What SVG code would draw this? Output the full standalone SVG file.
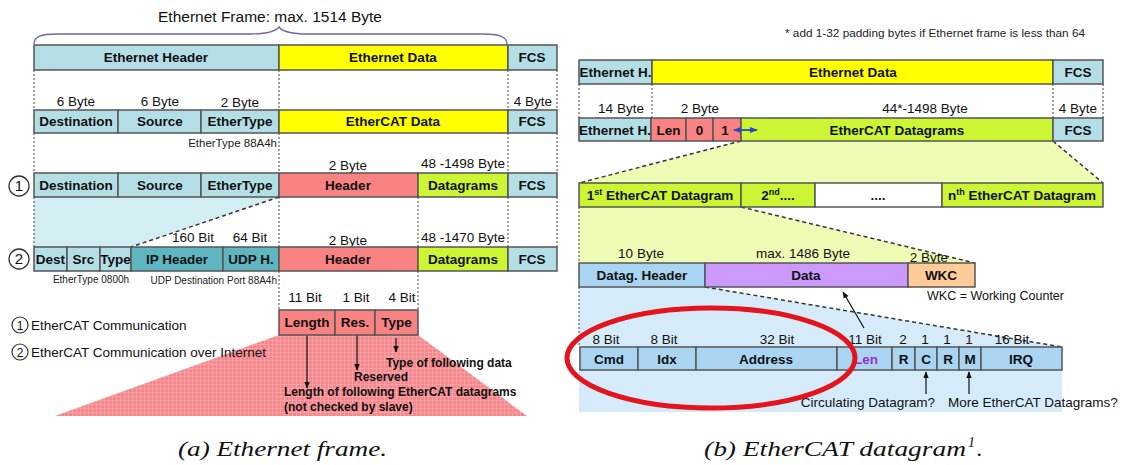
<svg xmlns="http://www.w3.org/2000/svg" width="1124" height="465" viewBox="0 0 1124 465">
<defs>
<style>
.bx{stroke:#555;stroke-width:1.5}
.eth{fill:#b4dee5}
.yel{fill:#ffff00}
.red{fill:#f98383}
.grn{fill:#ccf533}
.teal{fill:#5fb6c0}
.lbl{fill:#a9d4f2}
.vio{fill:#cc99ff}
.org{fill:#ffcc99}
.wht{fill:#ffffff}
.b{font-family:"Liberation Sans",Arial,sans-serif;font-weight:bold;font-size:13.5px;text-anchor:middle;fill:#111}
.r{font-family:"Liberation Sans",Arial,sans-serif;font-size:13.5px;text-anchor:middle;fill:#111}
.s{font-family:"Liberation Sans",Arial,sans-serif;font-size:10px;fill:#222}
.d{font-family:"Liberation Sans",Arial,sans-serif;font-weight:bold;font-size:12px;fill:#111}
.dot{stroke:#444;stroke-width:1;stroke-dasharray:2,2;fill:none}
.dash{stroke:#333;stroke-width:1.5;stroke-dasharray:4,3;fill:none}
.arr{stroke:#111;stroke-width:1.2;fill:none;marker-end:url(#ah)}
.cap{font-family:"Liberation Serif","Times New Roman",serif;font-style:italic;font-size:22px;fill:#111}
</style>
<marker id="ah" viewBox="0 0 10 10" refX="9" refY="5" markerWidth="7" markerHeight="7" orient="auto-start-reverse" markerUnits="userSpaceOnUse"><path d="M0,1 L10,5 L0,9 z" fill="#111"/></marker>
<marker id="bh" viewBox="0 0 10 10" refX="9" refY="5" markerWidth="8" markerHeight="8" orient="auto-start-reverse" markerUnits="userSpaceOnUse"><path d="M0,1 L10,5 L0,9 z" fill="#2a48c0"/></marker>
<pattern id="grid" width="4" height="4" patternUnits="userSpaceOnUse"><rect width="4" height="4" fill="#f5878d"/><path d="M0,0.5 H4 M0.5,0 V4" stroke="#f8aaae" stroke-width="0.7"/></pattern>
</defs>
<rect width="1124" height="465" fill="#fff"/>

<!-- background regions -->
<g id="regions">
<polygon points="34,197 279,197 131,247 34,247" fill="#d2eef2"/>
<polygon points="279,335 418,335 527,416 55,416" fill="url(#grid)"/>
<polygon points="741,141 1053,141 1103,183 579,183" fill="#eefbb4"/>
<polygon points="579,207 741,207 975,263 579,263" fill="#eefbb4"/>
<polygon points="579,287 705,287 1062,347 1062,412 579,412" fill="#d5ebfa"/>
</g>

<!-- connectors -->
<g id="connectors">
<path d="M34,44 C34,37 40,34 58,34 L250,34 C268,34 276,31 279,27 C282,31 290,34 308,34 L482,34 C500,34 507,37 507,44" stroke="#6a6aa8" stroke-width="1.3" fill="none"/>
<path class="dot" d="M34,70 V110 M279,70 V110 M508,70 V110 M557,70 V110"/>
<path class="dot" d="M34,133 V173 M279,133 V173 M508,133 V173 M557,133 V173"/>
<path class="dot" d="M34,197 V247 M279,197 V247 M418,197 V247 M508,197 V247 M557,197 V247"/>
<path class="dot" d="M279,271 V310 M418,271 V310"/>
<path class="dash" d="M279,197 L131,247"/>
<path class="dot" d="M579,84 V118 M652,84 V118 M1053,84 V118 M1103,84 V118"/>
<path class="dash" d="M741,141 L579,183 M1053,141 L1103,183"/>
<path class="dot" d="M579,207 V263"/>
<path class="dash" d="M741,207 L975,263"/>
<path class="dot" d="M579,287 V347"/>
<path class="dash" d="M705,287 L1062,347"/>
<line class="arr" x1="307" y1="335" x2="307" y2="388"/>
<line class="arr" x1="357" y1="335" x2="357" y2="370"/>
<line class="arr" x1="396" y1="338" x2="396" y2="352"/>
<line class="arr" x1="864" y1="328" x2="843" y2="292"/>
<line class="arr" x1="926" y1="394" x2="926" y2="372"/>
<line class="arr" x1="969" y1="394" x2="969" y2="372"/>
</g>

<!-- left panel -->
<text class="r" x="270" y="22" style="font-size:15.5px">Ethernet Frame: max. 1514 Byte</text>

<g id="row1">
<g id="eth-header"><rect class="bx eth" x="34" y="45" width="245" height="25"/><text class="b" x="156" y="62">Ethernet Header</text></g>
<g id="eth-data"><rect class="bx yel" x="279" y="45" width="229" height="25"/><text class="b" x="393" y="62">Ethernet Data</text></g>
<g id="fcs1"><rect class="bx eth" x="508" y="45" width="49" height="25"/><text class="b" x="532" y="62">FCS</text></g>
</g>
<text class="r" x="76" y="106">6 Byte</text>
<text class="r" x="160" y="106">6 Byte</text>
<text class="r" x="240" y="107">2 Byte</text>
<text class="r" x="533" y="106">4 Byte</text>
<g id="row2">
<g id="dst2"><rect class="bx eth" x="34" y="110" width="84" height="23"/><text class="b" x="76" y="126">Destination</text></g>
<g id="src2"><rect class="bx eth" x="118" y="110" width="83" height="23"/><text class="b" x="160" y="126">Source</text></g>
<g id="etype2"><rect class="bx eth" x="201" y="110" width="78" height="23"/><text class="b" x="240" y="126">EtherType</text></g>
<g id="ecat-data"><rect class="bx yel" x="279" y="110" width="229" height="23"/><text class="b" x="393" y="126">EtherCAT Data</text></g>
<g id="fcs2"><rect class="bx eth" x="508" y="110" width="49" height="23"/><text class="b" x="532" y="126">FCS</text></g>
</g>
<text class="s" x="277" y="147" text-anchor="end" style="font-size:11.5px">EtherType 88A4h</text>

<text class="r" x="348" y="170">2 Byte</text>
<text class="r" x="463" y="168">48 -1498 Byte</text>
<g id="row3">
<circle cx="19" cy="186" r="10" fill="none" stroke="#333" stroke-width="1.3"/><text class="r" x="19" y="191" style="font-size:15px">1</text>
<g id="dst3"><rect class="bx eth" x="34" y="173" width="84" height="24"/><text class="b" x="76" y="190">Destination</text></g>
<g id="src3"><rect class="bx eth" x="118" y="173" width="83" height="24"/><text class="b" x="160" y="190">Source</text></g>
<g id="etype3"><rect class="bx eth" x="201" y="173" width="78" height="24"/><text class="b" x="240" y="190">EtherType</text></g>
<g id="hdr3"><rect class="bx red" x="279" y="173" width="139" height="24"/><text class="b" x="348" y="190">Header</text></g>
<g id="dg3"><rect class="bx grn" x="418" y="173" width="90" height="24"/><text class="b" x="463" y="190">Datagrams</text></g>
<g id="fcs3"><rect class="bx eth" x="508" y="173" width="49" height="24"/><text class="b" x="532" y="190">FCS</text></g>
</g>

<text class="r" x="193" y="242">160 Bit</text>
<text class="r" x="250" y="242">64 Bit</text>
<text class="r" x="348" y="245">2 Byte</text>
<text class="r" x="463" y="242">48 -1470 Byte</text>
<g id="row4">
<circle cx="19" cy="259" r="10" fill="none" stroke="#333" stroke-width="1.3"/><text class="r" x="19" y="264" style="font-size:15px">2</text>
<g id="dest4"><rect class="bx eth" x="34" y="247" width="33" height="24"/><text class="b" x="50.5" y="264">Dest</text></g>
<g id="src4"><rect class="bx eth" x="67" y="247" width="33" height="24"/><text class="b" x="83.5" y="264">Src</text></g>
<g id="type4"><rect class="bx eth" x="100" y="247" width="31" height="24"/><text class="b" x="115.5" y="264">Type</text></g>
<g id="ip4"><rect class="bx teal" x="131" y="247" width="92" height="24"/><text class="b" x="177" y="264">IP Header</text></g>
<g id="udp4"><rect class="bx teal" x="223" y="247" width="56" height="24"/><text class="b" x="251" y="264">UDP H.</text></g>
<g id="hdr4"><rect class="bx red" x="279" y="247" width="139" height="24"/><text class="b" x="348" y="264">Header</text></g>
<g id="dg4"><rect class="bx grn" x="418" y="247" width="90" height="24"/><text class="b" x="463" y="264">Datagrams</text></g>
<g id="fcs4"><rect class="bx eth" x="508" y="247" width="49" height="24"/><text class="b" x="532" y="264">FCS</text></g>
</g>
<text class="s" x="91" y="283" text-anchor="middle">EtherType 0800h</text>
<text class="s" x="277" y="284" text-anchor="end">UDP Destination Port 88A4h</text>

<text class="r" x="305" y="302">11 Bit</text>
<text class="r" x="356" y="302">1 Bit</text>
<text class="r" x="402" y="302">4 Bit</text>
<g id="row5">
<g id="len5"><rect class="bx red" x="279" y="310" width="56" height="25"/><text class="b" x="307" y="327">Length</text></g>
<g id="res5"><rect class="bx red" x="335" y="310" width="40" height="25"/><text class="b" x="355" y="327">Res.</text></g>
<g id="typ5"><rect class="bx red" x="375" y="310" width="43" height="25"/><text class="b" x="396.5" y="327">Type</text></g>
</g>
<text class="d" x="386" y="367">Type of following data</text>
<text class="d" x="354" y="381">Reserved</text>
<text class="d" x="284" y="396">Length of following EtherCAT datagrams</text>
<text class="d" x="284" y="411">(not checked by slave)</text>

<g id="legend">
<circle cx="20" cy="325" r="8" fill="none" stroke="#333" stroke-width="1.2"/><text class="r" x="20" y="329.5" style="font-size:12px">1</text>
<text class="r" x="31" y="330" style="text-anchor:start">EtherCAT Communication</text>
<circle cx="20" cy="352" r="8" fill="none" stroke="#333" stroke-width="1.2"/><text class="r" x="20" y="356.5" style="font-size:12px">2</text>
<text class="r" x="31" y="357" style="text-anchor:start">EtherCAT Communication over Internet</text>
</g>

<!-- right panel -->
<text class="s" x="785" y="37" style="font-size:11px" textLength="300" lengthAdjust="spacingAndGlyphs">* add 1-32 padding bytes if Ethernet frame is less than 64</text>
<g id="rowA">
<g id="ethHA"><rect class="bx eth" x="579" y="60" width="73" height="24"/><text class="b" x="615.5" y="77">Ethernet H.</text></g>
<g id="ethDA"><rect class="bx yel" x="652" y="60" width="401" height="24"/><text class="b" x="853" y="77">Ethernet Data</text></g>
<g id="fcsA"><rect class="bx eth" x="1053" y="60" width="50" height="24"/><text class="b" x="1078" y="77">FCS</text></g>
</g>
<text class="r" x="621" y="113">14 Byte</text>
<text class="r" x="700" y="113">2 Byte</text>
<text class="r" x="925" y="113">44*-1498 Byte</text>
<text class="r" x="1078" y="113">4 Byte</text>
<g id="rowB">
<g id="ethHB"><rect class="bx eth" x="579" y="118" width="72" height="23"/><text class="b" x="615" y="135">Ethernet H.</text></g>
<g id="lenB"><rect class="bx red" x="651" y="118" width="35" height="23"/><text class="b" x="668.5" y="135">Len</text></g>
<g id="zeroB"><rect class="bx red" x="686" y="118" width="27" height="23"/><text class="b" x="699.5" y="135">0</text></g>
<g id="oneB"><rect class="bx red" x="713" y="118" width="28" height="23"/><text class="b" x="725" y="135">1</text></g>
<g id="dgB"><rect class="bx grn" x="741" y="118" width="312" height="23"/><text class="b" x="897" y="135">EtherCAT Datagrams</text></g>
<g id="fcsB"><rect class="bx eth" x="1053" y="118" width="50" height="23"/><text class="b" x="1078" y="135">FCS</text></g>
</g>
<line id="flag-arrow" x1="734" y1="130" x2="757" y2="130" stroke="#2a48c0" stroke-width="1.8" marker-start="url(#bh)" marker-end="url(#bh)"/>
<g id="rowC">
<g id="dg1"><rect class="bx grn" x="579" y="183" width="162" height="24"/><text class="b" x="660" y="200">1<tspan font-size="9" dy="-5">st</tspan><tspan dy="5"> EtherCAT Datagram</tspan></text></g>
<g id="dg2"><rect class="bx grn" x="741" y="183" width="74" height="24"/><text class="b" x="778" y="200">2<tspan font-size="9" dy="-5">nd</tspan><tspan dy="5">....</tspan></text></g>
<g id="dgdots"><rect class="bx wht" x="815" y="183" width="127" height="24"/><text class="b" x="878" y="200">....</text></g>
<g id="dgn"><rect class="bx grn" x="942" y="183" width="161" height="24"/><text class="b" x="1022" y="200">n<tspan font-size="9" dy="-5">th</tspan><tspan dy="5"> EtherCAT Datagram</tspan></text></g>
</g>
<text class="r" x="641" y="258">10 Byte</text>
<text class="r" x="803" y="258">max. 1486 Byte</text>
<text class="r" x="929" y="262">2 Byte</text>
<g id="rowD">
<g id="dghdr"><rect class="bx lbl" x="579" y="263" width="126" height="24"/><text class="b" x="642" y="280">Datag. Header</text></g>
<g id="data"><rect class="bx vio" x="705" y="263" width="203" height="24"/><text class="b" x="806" y="280">Data</text></g>
<g id="wkc"><rect class="bx org" x="908" y="263" width="67" height="24"/><text class="b" x="941" y="280">WKC</text></g>
</g>
<text class="r" x="927" y="300" style="text-anchor:start;font-size:12.5px">WKC = Working Counter</text>

<text class="r" x="606" y="344">8 Bit</text>
<text class="r" x="664" y="344">8 Bit</text>
<text class="r" x="777" y="344">32 Bit</text>
<text class="r" x="865" y="344">11 Bit</text>
<text class="r" x="903" y="344">2</text>
<text class="r" x="925" y="344">1</text>
<text class="r" x="947" y="344">1</text>
<text class="r" x="969" y="344">1</text>
<text class="r" x="1012" y="344">16 Bit</text>
<g id="rowE">
<g id="cmd"><rect class="bx lbl" x="580" y="347" width="58" height="23"/><text class="b" x="609" y="364">Cmd</text></g>
<g id="idx"><rect class="bx lbl" x="638" y="347" width="58" height="23"/><text class="b" x="667" y="364">Idx</text></g>
<g id="addr"><rect class="bx lbl" x="696" y="347" width="141" height="23"/><text class="b" x="766" y="364">Address</text></g>
<g id="lenE"><rect class="bx lbl" x="837" y="347" width="55" height="23"/><text class="b" x="866" y="364" style="fill:#9b30d0">Len</text></g>
<g id="rE1"><rect class="bx lbl" x="892" y="347" width="23" height="23"/><text class="b" x="903.5" y="364">R</text></g>
<g id="cE"><rect class="bx lbl" x="915" y="347" width="22" height="23"/><text class="b" x="926" y="364">C</text></g>
<g id="rE2"><rect class="bx lbl" x="937" y="347" width="22" height="23"/><text class="b" x="948" y="364">R</text></g>
<g id="mE"><rect class="bx lbl" x="959" y="347" width="22" height="23"/><text class="b" x="970" y="364">M</text></g>
<g id="irq"><rect class="bx lbl" x="981" y="347" width="81" height="23"/><text class="b" x="1021" y="364">IRQ</text></g>
</g>
<text class="r" x="935" y="407" style="text-anchor:end">Circulating Datagram?</text>
<text class="r" x="948" y="407" style="text-anchor:start">More EtherCAT Datagrams?</text>

<ellipse id="highlight" cx="711" cy="358" rx="144" ry="50" fill="none" stroke="#e3141c" stroke-width="5"/>

<text class="cap" x="178" y="456" textLength="209" lengthAdjust="spacingAndGlyphs">(a) Ethernet frame.</text>
<text class="cap" x="704" y="456" textLength="262" lengthAdjust="spacingAndGlyphs">(b) EtherCAT datagram</text>
<text class="cap" x="968" y="447" style="font-size:14px">1</text>
<text class="cap" x="977" y="456">.</text>
</svg>
